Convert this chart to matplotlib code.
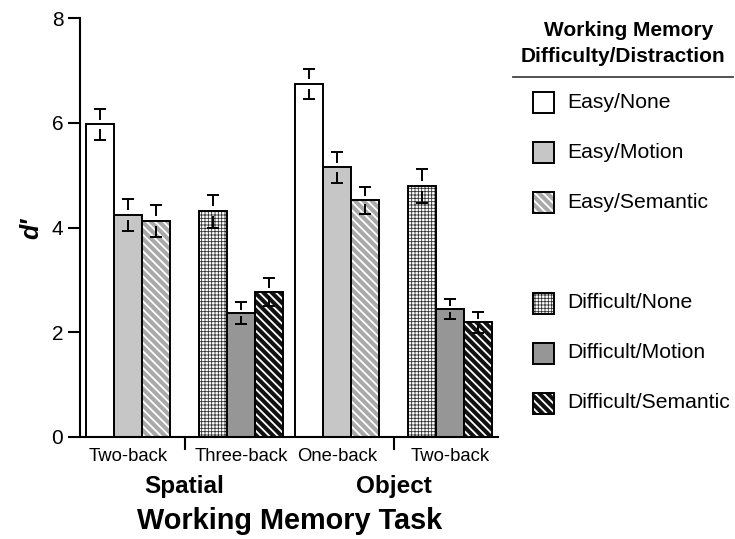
import matplotlib
matplotlib.use("Agg")
import matplotlib.pyplot as plt
from matplotlib.patches import Rectangle
from matplotlib.lines import Line2D
import numpy as np

plt.rcParams['font.family'] = ['Liberation Sans', 'DejaVu Sans']

# ---- data ----
tasks = ["Two-back", "Three-back", "One-back", "Two-back"]
task_types = ["Spatial", "Object"]
series_names = ["Easy/None", "Easy/Motion", "Easy/Semantic",
                "Difficult/None", "Difficult/Motion", "Difficult/Semantic"]

spatial_twoback = [5.97, 4.24, 4.12]      # Easy: None, Motion, Semantic
spatial_threeback = [4.31, 2.37, 2.77]    # Difficult: None, Motion, Semantic
object_oneback = [6.74, 5.15, 4.52]       # Easy
object_twoback = [4.79, 2.44, 2.19]       # Difficult

spatial_twoback_se = [0.29, 0.30, 0.31]
spatial_threeback_se = [0.31, 0.21, 0.27]
object_oneback_se = [0.29, 0.30, 0.26]
object_twoback_se = [0.32, 0.19, 0.20]

group_means = [spatial_twoback, spatial_threeback, object_oneback, object_twoback]
group_ses = [spatial_twoback_se, spatial_threeback_se, object_oneback_se, object_twoback_se]
group_level = ["Easy", "Difficult", "Easy", "Difficult"]

# ---- styles ----
styles = {
    "Easy/None": dict(face="white", hatch=None, hcol="black", hlw=1.0),
    "Easy/Motion": dict(face="#c6c6c6", hatch=None, hcol="black", hlw=1.0),
    "Easy/Semantic": dict(face="#a9a9a9", hatch="\\\\\\\\", hcol="white", hlw=1.3),
    "Difficult/None": dict(face="white", hatch="+++++", hcol="#333333", hlw=0.6),
    "Difficult/Motion": dict(face="#969696", hatch=None, hcol="black", hlw=1.0),
    "Difficult/Semantic": dict(face="#111111", hatch="\\\\\\\\", hcol="white", hlw=1.3),
}

W, H = 735, 539
fig = plt.figure(figsize=(W / 100, H / 100), dpi=100)
ax = fig.add_axes([80 / W, 1 - 437 / H, (498 - 80) / W, (437 - 18) / H])

unit = 28.0
group_start = [6 / unit, 119 / unit, 215 / unit, 328 / unit]
bw = 1.0
ax.set_xlim(0, (498 - 80) / unit)
ax.set_ylim(0, 8)


def styled_bar(x, h, name):
    st = styles[name]
    if st["hatch"]:
        with plt.rc_context({'hatch.linewidth': st["hlw"]}):
            b = ax.bar(x, h, width=bw, align='edge', color=st["face"],
                       edgecolor=st["hcol"], hatch=st["hatch"], linewidth=0, zorder=2)
            for p in b:
                if hasattr(p, "set_hatch_linewidth"):
                    p.set_hatch_linewidth(st["hlw"])
    else:
        ax.bar(x, h, width=bw, align='edge', color=st["face"], linewidth=0, zorder=2)
    ax.bar(x, h, width=bw, align='edge', fill=False, edgecolor="black",
           linewidth=1.4, zorder=3)


centers = []
for g, (means, ses, lvl) in enumerate(zip(group_means, group_ses, group_level)):
    names = [n for n in series_names if n.startswith(lvl)]
    for i, (m, s, n) in enumerate(zip(means, ses, names)):
        x0 = group_start[g] + i * bw
        styled_bar(x0, m, n)
        xc = x0 + bw / 2
        cw = 0.23
        for sign in (1, -1):
            yc = m + sign * s
            ax.plot([xc - cw, xc + cw], [yc, yc], color="black", lw=1.4, zorder=4,
                    solid_capstyle='butt')
            ax.plot([xc, xc], [yc, yc - sign * 0.7 * s], color="black", lw=1.4, zorder=4,
                    solid_capstyle='butt')
    centers.append(group_start[g] + 1.5 * bw)

# axes styling
for s in ["top", "right"]:
    ax.spines[s].set_visible(False)
ax.spines["left"].set_linewidth(1.5)
ax.spines["bottom"].set_linewidth(1.5)
ax.set_yticks([0, 2, 4, 6, 8])
ax.tick_params(axis='y', length=9, width=1.5, labelsize=15, pad=3)
ax.set_xticks(centers)
ax.set_xticklabels(tasks, fontsize=13.3)
ax.tick_params(axis='x', which='major', length=0, pad=8)
dividers = [(group_start[0] + 3 * bw + group_start[1]) / 2,
            (group_start[2] + 3 * bw + group_start[3]) / 2]
ax.set_xticks(dividers, minor=True)
ax.tick_params(axis='x', which='minor', length=9, width=1.5, direction='out')

for d, t in zip(dividers, task_types):
    ax.text(d, -0.118, t, transform=ax.get_xaxis_transform(), ha='center', va='center',
            fontsize=17.5, fontweight='bold')
fig.text(290 / W, 1 - 521 / H, "Working Memory Task", ha='center', va='center',
         fontsize=20.8, fontweight='bold')
fig.text(31 / W, 1 - 228 / H, "d′", rotation=90, ha='center', va='center',
         fontsize=18, fontweight='bold', style='italic')

# legend (manual)
fig.text(629 / W, 1 - 31 / H, "Working Memory", ha='center', va='center',
         fontsize=15, fontweight='bold')
fig.text(623 / W, 1 - 56 / H, "Difficulty/Distraction", ha='center', va='center',
         fontsize=15, fontweight='bold')
fig.add_artist(Line2D([513 / W, 733 / W], [1 - 77 / H, 1 - 77 / H], color="#444444", lw=1.3,
                      transform=fig.transFigure))
leg_y = [102, 152, 202, 303, 353, 403]
for n, yy in zip(series_names, leg_y):
    st = styles[n]
    x0, y0 = 533 / W, 1 - (yy + 10.5) / H
    w, h = 21 / W, 21 / H
    if st["hatch"]:
        with plt.rc_context({'hatch.linewidth': st["hlw"]}):
            r = Rectangle((x0, y0), w, h, transform=fig.transFigure, facecolor=st["face"],
                          edgecolor=st["hcol"], hatch=st["hatch"], linewidth=0)
            if hasattr(r, "set_hatch_linewidth"):
                r.set_hatch_linewidth(st["hlw"])
    else:
        r = Rectangle((x0, y0), w, h, transform=fig.transFigure, facecolor=st["face"],
                      linewidth=0)
    fig.add_artist(r)
    fig.add_artist(Rectangle((x0, y0), w, h, transform=fig.transFigure, fill=False,
                             edgecolor="black", linewidth=1.4))
    fig.text(567 / W, 1 - yy / H, n, ha='left', va='center', fontsize=15.2)

fig.savefig("out.png", dpi=100)
